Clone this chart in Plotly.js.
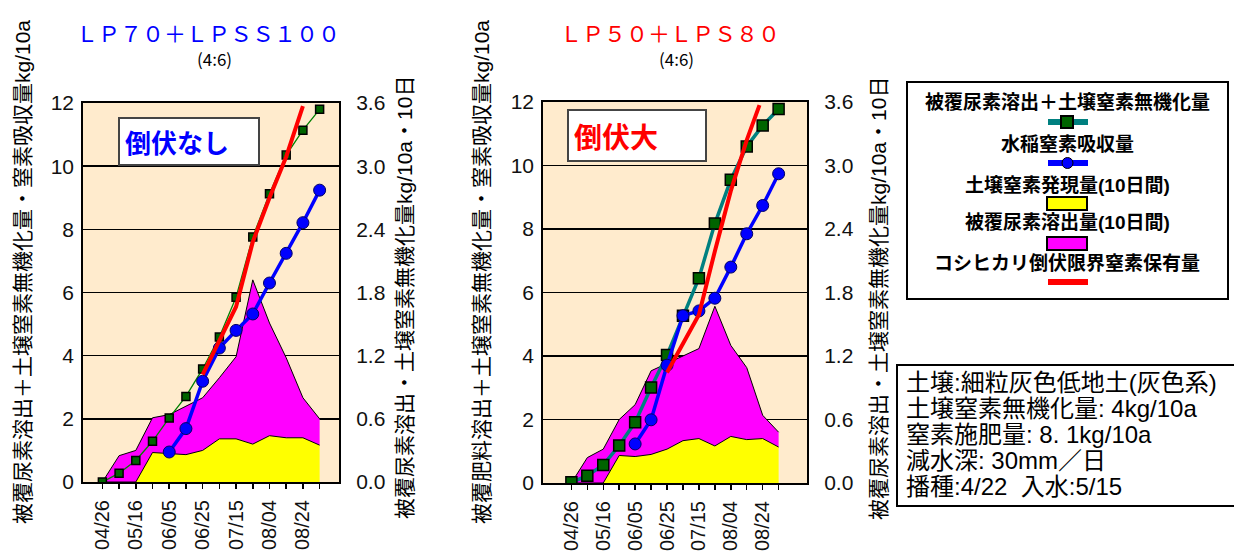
<!DOCTYPE html>
<html><head><meta charset="utf-8">
<script src="https://cdn.plot.ly/plotly-3.0.1.min.js"></script>
<style>body{margin:0;background:#fff}#chart{width:1234px;height:554px}</style>
</head><body><div id="chart"></div>
<script>
// ---- data ----
const periods = ['04/26','05/06','05/16','05/26','06/05','06/15','06/25','07/05','07/15','07/25','08/04','08/14','08/24','09/03'];
const tickText = periods.map((d, i) => (i % 2 === 0 ? d : ''));
const xIdx = periods.map((_, i) => i);

// Left chart: LP70 + LPSS100 (4:6)
const soilA   = [0, 0, 0, 0.28, 0.27, 0.26, 0.30, 0.41, 0.41, 0.36, 0.44, 0.42, 0.42, 0.35];   // kg/10a per 10 days
const ureaA   = [0, 0.25, 0.30, 0.33, 0.37, 0.46, 0.50, 0.58, 0.78, 1.56, 1.07, 0.76, 0.38, 0.25];
const cumA    = [0, 0.28, 0.68, 1.29, 2.03, 2.71, 3.58, 4.59, 5.85, 7.76, 9.13, 10.35, 11.14, 11.8];
const uptakeA = [null, null, null, null, 0.95, 1.69, 3.19, 4.24, 4.80, 5.32, 6.30, 7.24, 8.21, 9.24];
const limitPosA = [6, 7, 8, 9, 10, 11, 12];
const limitA    = [3.4, 4.45, 5.55, 7.6, 9.0, 10.3, 11.9];

// Right chart: LP50 + LPS80 (4:6)
const soilB   = [0, 0, 0, 0.26, 0.25, 0.27, 0.32, 0.40, 0.42, 0.35, 0.44, 0.41, 0.42, 0.34];
const ureaB   = [0, 0.24, 0.32, 0.34, 0.49, 0.79, 0.81, 0.80, 0.85, 1.32, 0.86, 0.68, 0.22, 0.14];
const cumB    = [0.02, 0.23, 0.57, 1.18, 1.91, 3.01, 4.03, 5.27, 6.45, 8.17, 9.55, 10.6, 11.26, 11.78];
const uptakeB = [null, null, null, null, 1.23, 1.99, 3.71, 5.27, 5.42, 5.82, 6.80, 7.85, 8.74, 9.74];
const limitPosB = [6, 7, 8, 9, 10, 11, 11.8];
const limitB    = [3.48, 4.4, 5.3, 7.3, 9.2, 10.8, 11.9];

const leftTicks = [0, 2, 4, 6, 8, 10, 12];
const rightTicks = [0, 0.6, 1.2, 1.8, 2.4, 3.0, 3.6];

// ---- helpers ----
const W = 1234, H = 554;
const px = v => v / W, py = v => 1 - v / H;
const LAT = 'Liberation Sans, Arial, sans-serif';
const JP = 'Liberation Sans, Noto Sans CJK JP, sans-serif';

function areas(soil, urea, xa, ya, grp) {
  return [
    {x: xIdx, y: soil, xaxis: xa, yaxis: ya, type: 'scatter', mode: 'lines', stackgroup: grp,
     line: {color: '#000', width: 1}, fillcolor: '#FFFF00', showlegend: false, hoverinfo: 'skip'},
    {x: xIdx, y: urea, xaxis: xa, yaxis: ya, type: 'scatter', mode: 'lines', stackgroup: grp,
     line: {color: '#000', width: 1}, fillcolor: '#FF00FF', showlegend: false, hoverinfo: 'skip'}
  ];
}
function lines(cum, uptake, lpos, lim, xa, ya, cumStyle) {
  return [
    {x: xIdx, y: cum, xaxis: xa, yaxis: ya, type: 'scatter', mode: 'lines+markers',
     line: {color: cumStyle.color, width: cumStyle.width},
     marker: {symbol: 'square', size: cumStyle.size, color: '#006400', line: {color: '#000', width: 1.5}},
     showlegend: false},
    {x: xIdx, y: uptake, xaxis: xa, yaxis: ya, type: 'scatter', mode: 'lines+markers',
     line: {color: '#0000FF', width: 3.5},
     marker: {symbol: 'circle', size: 12, color: '#0000FF', line: {color: '#000066', width: 1}},
     showlegend: false},
    {x: lpos, y: lim, xaxis: xa, yaxis: ya, type: 'scatter', mode: 'lines',
     line: {color: '#FF0000', width: 4}, showlegend: false}
  ];
}

const data = [
  ...areas(soilA, ureaA, 'x', 'y', 'a'),
  ...lines(cumA, uptakeA, limitPosA, limitA, 'x', 'y2', {color: '#008000', width: 1.3, size: 8}),
  ...areas(soilB, ureaB, 'x2', 'y3', 'b'),
  ...lines(cumB, uptakeB, limitPosB, limitB, 'x2', 'y4', {color: '#008080', width: 3.5, size: 11})
];

function xAxis(dom, range, anchor) {
  return {domain: dom, anchor: anchor, range: range, tickmode: 'array', tickvals: xIdx, ticktext: tickText,
    tickangle: -90, ticks: 'outside', ticklen: 5, tickwidth: 1.5, tickcolor: '#000',
    showline: true, linecolor: '#000', linewidth: 2, mirror: true, showgrid: false, zeroline: false,
    tickfont: {family: LAT, size: 20, color: '#111'}, ticklabelstandoff: 3, fixedrange: true};
}
function yRight(dom, anchor) {
  return {domain: dom, anchor: anchor, side: 'right', range: [0, 3.6], tickmode: 'array',
    tickvals: rightTicks, ticktext: rightTicks.map(v => v.toFixed(1)),
    showgrid: true, gridcolor: '#000', gridwidth: 1.5, showline: true, linecolor: '#000', linewidth: 2,
    mirror: true, zeroline: false, ticks: '', ticklabelstandoff: 11,
    tickfont: {family: LAT, size: 21, color: '#111'}, fixedrange: true};
}
function yLeft(over, anchor) {
  return {overlaying: over, anchor: anchor, side: 'left', range: [0, 12], tickmode: 'array',
    tickvals: leftTicks, ticktext: leftTicks.map(String), showgrid: false, zeroline: false,
    showline: false, ticks: '', ticklabelstandoff: 8,
    tickfont: {family: LAT, size: 21, color: '#111'}, fixedrange: true};
}

function ann(text, x, y, o) {
  return Object.assign({text: text, x: px(x), y: py(y), xref: 'paper', yref: 'paper', showarrow: false,
    xanchor: 'center', yanchor: 'middle', font: {family: JP, size: 20, color: '#000'}}, o || {});
}

const annotations = [
  ann('ＬＰ７０＋ＬＰＳＳ１００', 208, 32, {font: {family: 'Noto Sans CJK JP', size: 22, color: '#0000FF'}}),
  ann('(4:6)', 214, 58, {font: {family: 'Noto Sans CJK JP', size: 17, color: '#000'}}),
  ann('ＬＰ５０＋ＬＰＳ８０', 670, 32, {font: {family: 'Noto Sans CJK JP', size: 22, color: '#FF0000'}}),
  ann('(4:6)', 676, 58, {font: {family: 'Noto Sans CJK JP', size: 17, color: '#000'}}),
  ann('<b>倒伏なし</b>', 118, 117, {xanchor: 'left', yanchor: 'top', width: 128, height: 35, align: 'left',
    bgcolor: '#FFFFFF', bordercolor: '#444', borderwidth: 2, borderpad: 5,
    font: {family: 'Noto Sans CJK JP', size: 26, color: '#0000FF'}}),
  ann('<b>倒伏大</b>', 567, 109, {xanchor: 'left', yanchor: 'top', width: 126, height: 39, align: 'left',
    bgcolor: '#FFFFFF', bordercolor: '#444', borderwidth: 2, borderpad: 5,
    font: {family: 'Noto Sans CJK JP', size: 28, color: '#FF0000'}}),
  ann('被覆尿素溶出＋土壌窒素無機化量・窒素吸収量kg/10a', 22, 272, {textangle: -90, font: {family: JP, size: 21, color: '#000'}}),
  ann('被覆尿素溶出・土壌窒素無機化量kg/10a・10日', 404, 298, {textangle: -90, font: {family: JP, size: 21, color: '#000'}}),
  ann('被覆肥料溶出＋土壌窒素無機化量・窒素吸収量kg/10a', 481, 272, {textangle: -90, font: {family: JP, size: 21, color: '#000'}}),
  ann('被覆尿素溶出・土壌窒素無機化量kg/10a・10日', 878, 298, {textangle: -90, font: {family: JP, size: 21, color: '#000'}}),
  // legend texts
  ann('<b>被覆尿素溶出＋土壌窒素無機化量</b>', 1067, 103, {font: {family: JP, size: 19, color: '#000'}}),
  ann('<b>水稲窒素吸収量</b>', 1067, 145, {font: {family: JP, size: 19, color: '#000'}}),
  ann('<b>土壌窒素発現量(10日間)</b>', 1067, 185, {font: {family: JP, size: 19, color: '#000'}}),
  ann('<b>被覆尿素溶出量(10日間)</b>', 1067, 223, {font: {family: JP, size: 19, color: '#000'}}),
  ann('<b>コシヒカリ倒伏限界窒素保有量</b>', 1067, 263, {font: {family: JP, size: 19, color: '#000'}}),
  // info box
  ann('土壌:細粒灰色低地土(灰色系)', 904, 382, {xanchor: 'left', font: {family: JP, size: 24, color: '#000'}}),
  ann('土壌窒素無機化量: 4kg/10a', 904, 408, {xanchor: 'left', font: {family: JP, size: 24, color: '#000'}}),
  ann('窒素施肥量: 8. 1kg/10a', 904, 434, {xanchor: 'left', font: {family: JP, size: 24, color: '#000'}}),
  ann('減水深: 30mm／日', 904, 460, {xanchor: 'left', font: {family: JP, size: 24, color: '#000'}}),
  ann('播種:4/22\u00a0\u00a0入水:5/15', 904, 486, {xanchor: 'left', font: {family: JP, size: 24, color: '#000'}})
];

function rect(x0, y0, x1, y1, fill, lw) {
  return {type: 'rect', xref: 'paper', yref: 'paper', x0: px(x0), x1: px(x1), y0: py(y0), y1: py(y1),
    fillcolor: fill, line: {color: '#000', width: lw}, layer: 'above'};
}
function hline(x0, x1, y, color, w) {
  return {type: 'line', xref: 'paper', yref: 'paper', x0: px(x0), x1: px(x1), y0: py(y), y1: py(y),
    line: {color: color, width: w}, layer: 'above'};
}
const shapes = [
  rect(907, 82, 1228, 299, 'rgba(0,0,0,0)', 2),
  hline(1048, 1088, 122, '#008080', 6),
  rect(1061, 116, 1073, 128, '#006400', 2),
  hline(1048, 1088, 163, '#0000FF', 6),
  {type: 'circle', xref: 'paper', yref: 'paper', x0: px(1062), x1: px(1073), y0: py(157.5), y1: py(168.5),
   fillcolor: '#0000FF', line: {color: '#000', width: 1}, layer: 'above'},
  rect(1047, 197, 1087, 210, '#FFFF00', 2),
  rect(1047, 237, 1087, 250, '#FF00FF', 2),
  hline(1048, 1088, 282, '#FF0000', 6),
  rect(897, 365, 1250, 506, 'rgba(0,0,0,0)', 2)
];

const layout = {
  width: W, height: H, margin: {l: 0, r: 0, t: 0, b: 0},
  paper_bgcolor: '#FFFFFF', plot_bgcolor: '#FFEBCD', showlegend: false, hovermode: false,
  font: {family: JP, color: '#000'},
  xaxis: xAxis([px(83), px(339)], [-1.16, 14.16], 'y'),
  yaxis: yRight([py(482), py(103)], 'x'),
  yaxis2: yLeft('y', 'x'),
  xaxis2: xAxis([px(543), px(807)], [-1.78, 14.78], 'y3'),
  yaxis3: yRight([py(483), py(102)], 'x2'),
  yaxis4: yLeft('y3', 'x2'),
  annotations: annotations,
  shapes: shapes
};

Plotly.newPlot('chart', data, layout, {staticPlot: true, displayModeBar: false});
</script>
</body></html>
